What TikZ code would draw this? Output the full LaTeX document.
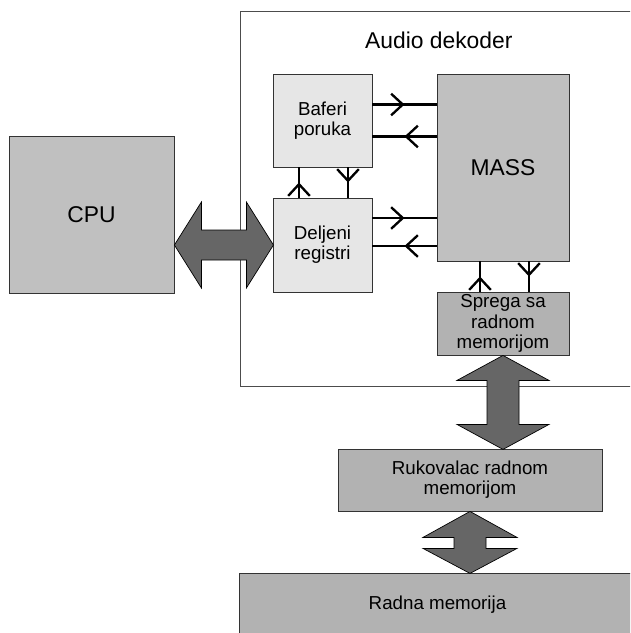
\documentclass[tikz,border=0pt]{standalone}
\usepackage{fontspec}
\setmainfont{Liberation Sans}
\usetikzlibrary{calc}
\usetikzlibrary{arrows.meta}
\usetikzlibrary{decorations.markings}

\definecolor{lightbox}{HTML}{E6E6E6}
\definecolor{midbox}{HTML}{C0C0C0}
\definecolor{darkbox}{HTML}{B2B2B2}
\definecolor{busfill}{HTML}{666666}

\begin{document}
\begin{tikzpicture}[x=0.03cm,y=-0.03cm,
  blok/.style={draw=black!80,line width=0.7pt,inner sep=0pt,align=center,
    font=\fontsize{16}{17.3}\selectfont},
  veliki/.style={blok,font=\fontsize{19.5}{22}\selectfont},
  link/.style={line width=2pt,postaction={decorate},
    decoration={markings,mark=at position 0.5 with
      {\arrow[line width=2pt]{Straight Barb[length=3.5mm,width=6.5mm]}}}},
  bus/.style={draw=black,line width=0.6pt,fill=busfill,line join=miter}]
 \clip (0,0) rectangle (630,633);
 % okvir dekodera
 \draw[draw=black!70,line width=0.8pt] (240,11) rectangle (660,386);
 \node[anchor=base west,font=\fontsize{19.5}{22}\selectfont] (naslov) at (361,48) {Audio dekoder};

 \node[veliki,fill=midbox,minimum width=4.95cm,minimum height=4.71cm] (cpu) at (91.5,214.5) {CPU};
 \node[blok,fill=lightbox,minimum width=2.97cm,minimum height=2.79cm] (baf) at (322.5,120.5) {Baferi\\poruka};
 \node[blok,fill=lightbox,minimum width=2.97cm,minimum height=2.82cm] (dlj) at (322.5,245) {Deljeni\\registri};
 \node[veliki,fill=midbox,minimum width=3.96cm,minimum height=5.61cm] (mas) at (503,167.5) {MASS};
 \node[blok,fill=darkbox,minimum width=3.96cm,minimum height=1.89cm] (spr) at (503,323.5) {Sprega sa\\radnom\\memorijom};
 \node[blok,fill=darkbox,minimum width=7.92cm,minimum height=1.86cm] (ruk) at (470,480) {Rukovalac radnom\\memorijom};
 \node[blok,fill=darkbox,minimum width=11.91cm,minimum height=1.92cm] (rad) at (437.5,605) {Radna memorija};

 % tanke veze
 \path (baf.east) ++(0,-16) coordinate (b1) (baf.east) ++(0,16) coordinate (b2)
       (dlj.east) ++(0,-27) coordinate (d1) (dlj.east) ++(0,1) coordinate (d2)
       (baf.south) ++(-23.5,0) coordinate (v1) (baf.south) ++(25.5,0) coordinate (v2)
       (spr.north) ++(-23,0) coordinate (s1) (spr.north) ++(26,0) coordinate (s2);
 \draw[link] (b1) -- (b1 -| mas.west);
 \draw[link] (b2 -| mas.west) -- (b2);
 \draw[link] (d1) -- (d1 -| mas.west);
 \draw[link] (d2 -| mas.west) -- (d2);
 \draw[link] (v1 |- dlj.north) -- (v1);
 \draw[link] (v2) -- (v2 |- dlj.north);
 \draw[link] (s1) -- (s1 |- mas.south);
 \draw[link] (s2 |- mas.south) -- (s2);

 % magistrale
 \draw[bus] (cpu.east |- dlj.west) -- ++(27,-43) -- ++(0,28) -- ++(45,0) -- ++(0,-28) -- ++(27,43)
   -- ++(-27,43) -- ++(0,-28) -- ++(-45,0) -- ++(0,28) -- cycle;
 \draw[bus] (spr.south) -- ++(46,25) -- ++(-30,0) -- ++(0,44) -- ++(30,0) -- ++(-46,25)
   -- ++(-46,-25) -- ++(30,0) -- ++(0,-44) -- ++(-30,0) -- cycle;
 \draw[bus] (ruk.south) -- ++(47,26) -- ++(-31,0) -- ++(0,11) -- ++(31,0) -- ++(-47,25)
   -- ++(-47,-25) -- ++(31,0) -- ++(0,-11) -- ++(-31,0) -- cycle;
\end{tikzpicture}
\end{document}
